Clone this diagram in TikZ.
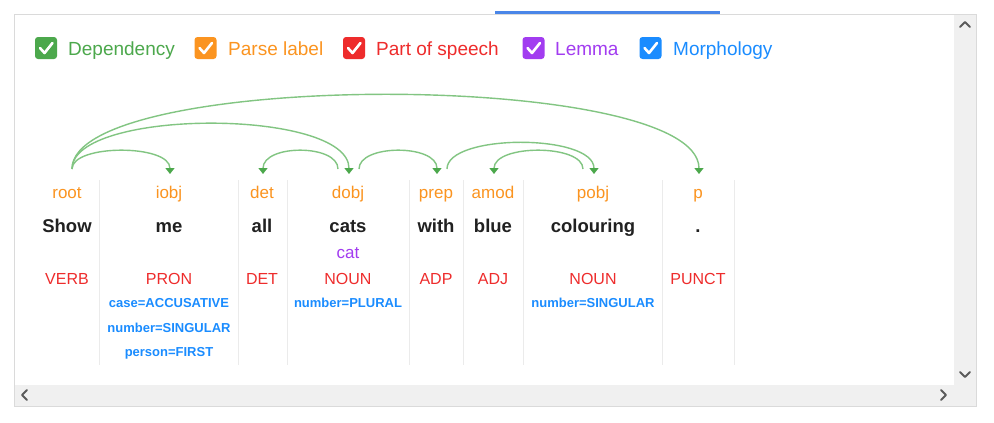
\documentclass[tikz,border=0pt]{standalone}
\usepackage{fontspec}
\setmainfont{Liberation Sans}
\usetikzlibrary{arrows.meta}
\definecolor{depgreen}{HTML}{4CA84C}
\definecolor{arcgreen}{HTML}{82C582}
\definecolor{parseorange}{HTML}{FB9420}
\definecolor{posred}{HTML}{EE2C2C}
\definecolor{lemmapurple}{HTML}{A23CF0}
\definecolor{morphblue}{HTML}{1A8CFF}
\definecolor{wordblack}{HTML}{212121}
\definecolor{framegray}{HTML}{DADADA}
\definecolor{sepgray}{HTML}{EBEBEB}
\definecolor{scrollgray}{HTML}{F0F0F0}
\definecolor{chevgray}{HTML}{5A5A5A}
\definecolor{tabblue}{HTML}{4A86E8}
\begin{document}
\begin{tikzpicture}[x=1pt,y=-1pt,
  hdr/.style={anchor=base west, inner sep=0pt, font=\fontsize{19}{22}\selectfont},
  cbox/.style={minimum size=22pt, inner sep=0pt, rounded corners=3pt, draw=none},
  checkm/.style={white, line width=2.6pt, line cap=round, line join=round},
  lbl/.style={anchor=base, inner sep=0pt, text=parseorange, font=\fontsize{17}{20}\selectfont},
  word/.style={anchor=base, inner sep=0pt, text=wordblack, font=\bfseries\fontsize{18.5}{22}\selectfont},
  lem/.style={anchor=base, inner sep=0pt, text=lemmapurple, font=\fontsize{17}{20}\selectfont},
  posbox/.style={anchor=base, inner sep=0pt, text=posred, font=\fontsize{16}{19}\selectfont},
  morph/.style={anchor=base, inner sep=0pt, text=morphblue, font=\bfseries\fontsize{13}{15}\selectfont},
  sepline/.style={sepgray, line width=1pt},
  deparc/.style={arcgreen, line width=1.4pt, -{Triangle[width=9pt,length=6pt,color=depgreen]}},
  chev/.style={chevgray, line width=1.8pt, line cap=round, line join=round}
]
\useasboundingbox (0,0) rectangle (994,423);
\fill[white] (0,0) rectangle (994,423);

% frame and scrollbars
\fill[tabblue] (495,11) rectangle (720,14);
\fill[scrollgray] (954,14) rectangle (976,406);
\fill[scrollgray] (14,385) rectangle (976,406);
\draw[framegray, line width=1pt] (14,14) rectangle (976,406);
\draw[chev] (960,27) -- (965,22) -- (970,27);
\draw[chev] (960,372) -- (965,377) -- (970,372);
\draw[chev] (27,390) -- (22,395) -- (27,400);
\draw[chev] (941,390) -- (946,395) -- (941,400);

% header checkboxes
\node[cbox, fill=depgreen] (cb1) at (46,48) {};
\node[cbox, fill=parseorange] (cb2) at (205.5,48) {};
\node[cbox, fill=posred] (cb3) at (354,48) {};
\node[cbox, fill=lemmapurple] (cb4) at (533.5,48) {};
\node[cbox, fill=morphblue] (cb5) at (650.5,48) {};
\foreach \c in {cb1,cb2,cb3,cb4,cb5}
  \draw[checkm] ([xshift=-6pt,yshift=0pt]\c.center) -- ++(4.5,5) -- ++(8,-10);
\node[hdr, text=depgreen] (h1) at (68,55) {Dependency};
\node[hdr, text=parseorange] (h2) at (228,55) {Parse label};
\node[hdr, text=posred] (h3) at (376,55) {Part of speech};
\node[hdr, text=lemmapurple] (h4) at (555,55) {Lemma};
\node[hdr, text=morphblue] (h5) at (673,55) {Morphology};

% column separators
\foreach \x in {99,238,287,409,463,523,662,734}
  \draw[sepline] (\x,180) -- (\x,365);

% parse labels
\node[lbl] (l1) at (67,198) {root};
\node[lbl] (l2) at (169,198) {iobj};
\node[lbl] (l3) at (262,198) {det};
\node[lbl] (l4) at (348,198) {dobj};
\node[lbl] (l5) at (436,198) {prep};
\node[lbl] (l6) at (493,198) {amod};
\node[lbl] (l7) at (593,198) {pobj};
\node[lbl] (l8) at (698,198) {p};

% words
\node[word] (w1) at (67,232) {Show};
\node[word] (w2) at (169,232) {me};
\node[word] (w3) at (262,232) {all};
\node[word] (w4) at (348,232) {cats};
\node[word] (w5) at (436,232) {with};
\node[word] (w6) at (493,232) {blue};
\node[word] (w7) at (593,232) {colouring};
\node[word] (w8) at (698,232) {.};

% lemma
\node[lem] (m4) at (348,258) {cat};

% part of speech
\node[posbox] (p1) at (67,284) {VERB};
\node[posbox] (p2) at (169,284) {PRON};
\node[posbox] (p3) at (262,284) {DET};
\node[posbox] (p4) at (348,284) {NOUN};
\node[posbox] (p5) at (436,284) {ADP};
\node[posbox] (p6) at (493,284) {ADJ};
\node[posbox] (p7) at (593,284) {NOUN};
\node[posbox] (p8) at (698,284) {PUNCT};

% morphology
\node[morph] (f2a) at (169,307.5) {case=ACCUSATIVE};
\node[morph] (f2b) at (169,332) {number=SINGULAR};
\node[morph] (f2c) at (169,356.5) {person=FIRST};
\node[morph] (f4a) at (348,307.5) {number=PLURAL};
\node[morph] (f7a) at (593,307.5) {number=SINGULAR};

% arc anchor coordinates
\coordinate (s-root) at (72,169);
\coordinate (s-dobjL) at (338,169);
\coordinate (s-dobjR) at (359,169);
\coordinate (s-prep) at (447,169);
\coordinate (s-pobjL) at (583,169);
\coordinate (e-iobj) at (170,174);
\coordinate (e-det) at (263,174);
\coordinate (e-dobj) at (349,174);
\coordinate (e-prep) at (437,174);
\coordinate (e-amod) at (494,174);
\coordinate (e-pobj) at (594,174);
\coordinate (e-p) at (699,174);

% dependency arcs
\draw[deparc] (s-root) .. controls ([yshift=25pt]s-root) and ([yshift=30pt]e-iobj) .. (e-iobj);
\draw[deparc] (s-root) .. controls ([yshift=61pt]s-root) and ([yshift=66pt]e-dobj) .. (e-dobj);
\draw[deparc] (s-root) .. controls ([yshift=99.5pt]s-root) and ([yshift=104.5pt]e-p) .. (e-p);
\draw[deparc] (s-dobjL) .. controls ([yshift=25pt]s-dobjL) and ([yshift=30pt]e-det) .. (e-det);
\draw[deparc] (s-dobjR) .. controls ([yshift=25pt]s-dobjR) and ([yshift=30pt]e-prep) .. (e-prep);
\draw[deparc] (s-prep) .. controls ([yshift=35.5pt]s-prep) and ([yshift=40.5pt]e-pobj) .. (e-pobj);
\draw[deparc] (s-pobjL) .. controls ([yshift=25pt]s-pobjL) and ([yshift=30pt]e-amod) .. (e-amod);
\end{tikzpicture}
\end{document}
